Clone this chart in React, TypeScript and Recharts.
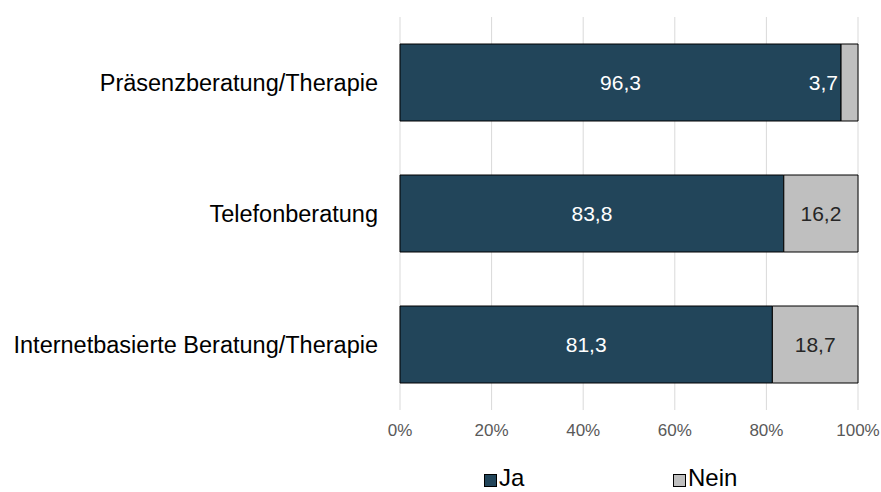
import React from 'react';
import { BarChart, Bar, XAxis, YAxis, CartesianGrid, Legend, LabelList } from 'recharts';

const categories = ['Präsenzberatung/Therapie', 'Telefonberatung', 'Internetbasierte Beratung/Therapie'];
const jaValues = [96.3, 83.8, 81.3];
const neinValues = [3.7, 16.2, 18.7];
const xTicks = [0, 20, 40, 60, 80, 100];

const data = categories.map((name, i) => ({ name, ja: jaValues[i], nein: neinValues[i] }));

const FONT = 'Liberation Sans, Arial, sans-serif';
const JA_COLOR = '#22455a';
const NEIN_COLOR = '#bfbfbf';

const fmt = (v: number) => v.toFixed(1).replace('.', ',');

const JaLabel = (props: any) => {
  const { x, y, width, height, value } = props;
  return (
    <text x={x + width / 2} y={y + height / 2} fill="#ffffff" fontSize={21} fontFamily={FONT}
      textAnchor="middle" dominantBaseline="central">{fmt(value)}</text>
  );
};

const NeinLabel = (props: any) => {
  const { x, y, width, height, value } = props;
  if (width < 45) {
    return (
      <text x={x - 3} y={y + height / 2} fill="#ffffff" fontSize={21} fontFamily={FONT}
        textAnchor="end" dominantBaseline="central">{fmt(value)}</text>
    );
  }
  return (
    <text x={x + width / 2} y={y + height / 2} fill="#262626" fontSize={21} fontFamily={FONT}
      textAnchor="middle" dominantBaseline="central">{fmt(value)}</text>
  );
};

const LegendContent = () => (
  <div style={{ position: 'relative', width: 881, height: 27, fontFamily: FONT, fontSize: 24, color: '#000' }}>
    <div style={{ position: 'absolute', left: 484, top: 10, width: 11, height: 11, background: JA_COLOR, border: '1px solid #000' }} />
    <div style={{ position: 'absolute', left: 499, top: 0, lineHeight: '27px', whiteSpace: 'nowrap' }}>Ja</div>
    <div style={{ position: 'absolute', left: 673, top: 10, width: 11, height: 11, background: NEIN_COLOR, border: '1px solid #000' }} />
    <div style={{ position: 'absolute', left: 688, top: 0, lineHeight: '27px', whiteSpace: 'nowrap' }}>Nein</div>
  </div>
);

export default function App() {
  return (
    <div style={{ position: 'absolute', left: 0, top: 0, width: 881, height: 492, background: '#fff', overflow: 'hidden' }}>
      <BarChart width={881} height={492} data={data} layout="vertical"
        margin={{ top: 17, right: 23, bottom: 0, left: 0 }} barSize={77}>
        <CartesianGrid horizontal={false} stroke="#d9d9d9" strokeWidth={1} />
        <XAxis type="number" domain={[0, 100]} ticks={xTicks} tickFormatter={(v: number) => `${v}%`}
          axisLine={false} tickLine={false} tickMargin={8} height={55}
          tick={{ fontSize: 17, fill: '#595959', fontFamily: FONT }} interval={0} />
        <YAxis type="category" dataKey="name" width={400} axisLine={false} tickLine={false} tickMargin={16}
          tick={{ fontSize: 23.5, fill: '#000', fontFamily: FONT }} />
        <Legend verticalAlign="bottom" content={<LegendContent />}
          wrapperStyle={{ position: 'absolute', left: 0, top: 464, width: 881, height: 27 }} />
        <Bar dataKey="ja" stackId="a" fill={JA_COLOR} stroke="#000" strokeWidth={1} isAnimationActive={false}>
          <LabelList dataKey="ja" content={<JaLabel />} />
        </Bar>
        <Bar dataKey="nein" stackId="a" fill={NEIN_COLOR} stroke="#000" strokeWidth={1} isAnimationActive={false}>
          <LabelList dataKey="nein" content={<NeinLabel />} />
        </Bar>
      </BarChart>
    </div>
  );
}
